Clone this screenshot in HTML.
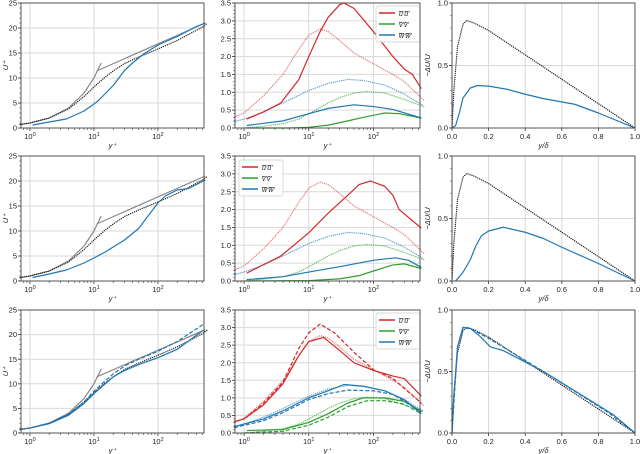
<!DOCTYPE html>
<html><head><meta charset="utf-8">
<style>
html,body{margin:0;padding:0;background:#fff;}
svg{display:block;font-family:"Liberation Sans",sans-serif;}
</style></head>
<body>
<svg id="fig" width="640" height="454" viewBox="0 0 640 454" xmlns="http://www.w3.org/2000/svg"></svg>
<script>
// ---------- data ----------
// log-law / viscous reference lines (U+ plots)
const viscX = [0.7, 1, 2, 4, 7, 10, 13];
const viscY = [0.7, 1, 2, 4, 7, 10, 13];
const logLawX = [11, 550];
const logLawY = [11.4, 21.0];
// dotted reference U+
const refUx = [0.7, 1, 2, 4, 7, 10, 15, 20, 30, 50, 100, 200, 500, 600];
const refUy = [0.7, 1.0, 2.0, 3.8, 6.3, 8.2, 10.2, 11.4, 12.9, 14.2, 15.8, 17.5, 20.2, 21.0];
// row 1 U+
const r1Ux = [1.1, 2, 3.7, 7, 10, 12, 20, 30, 40, 60, 100, 200, 400, 550];
const r1Uy = [0.6, 1.2, 1.8, 3.4, 4.8, 5.6, 8.5, 11.5, 13.0, 14.8, 16.6, 18.3, 20.3, 21.0];
// row 2 U+
const r2Ux = [1.1, 2, 3.7, 7, 10, 15, 20, 30, 50, 70, 100, 130, 200, 300, 550];
const r2Uy = [0.7, 1.4, 2.2, 3.6, 4.6, 5.8, 6.8, 8.2, 10.5, 13.0, 15.6, 17.0, 18.2, 18.5, 20.2];
// row 3 U+
const r3Ux = [1, 2, 4, 7, 10, 15, 20, 30, 50, 100, 200, 500];
const r3Uy = [1.0, 1.9, 3.6, 6.0, 8.0, 10.0, 11.4, 12.7, 13.9, 15.3, 17.0, 20.8];
const r3UdX = [0.7, 1, 2, 4, 7, 10, 15, 20, 30, 50, 100, 200, 500];
const r3UdY = [0.8, 1.0, 2.0, 3.8, 6.3, 8.5, 10.6, 12.0, 13.6, 15.0, 16.6, 18.6, 22.0];

// dotted reference Reynolds stresses
const refUUx = [0.7, 1, 2, 4, 7, 10, 15, 20, 30, 50, 100, 200, 300, 600];
const refUUy = [0.3, 0.42, 0.9, 1.5, 2.2, 2.6, 2.77, 2.7, 2.45, 2.1, 1.8, 1.5, 1.3, 0.78];
const refVVx = [1, 2, 4, 7, 10, 20, 30, 50, 80, 150, 300, 600];
const refVVy = [0.0, 0.05, 0.12, 0.25, 0.4, 0.7, 0.85, 0.98, 1.02, 0.98, 0.8, 0.6];
const refWWx = [0.7, 1, 2, 4, 10, 20, 40, 70, 150, 300, 600];
const refWWy = [0.18, 0.25, 0.45, 0.7, 1.05, 1.25, 1.36, 1.33, 1.2, 0.95, 0.62];
// row 1 stresses
const r1UUx = [1.1, 2, 3.7, 7, 10, 15, 20, 30, 35, 50, 100, 200, 300, 400, 550];
const r1UUy = [0.25, 0.45, 0.7, 1.35, 2.0, 2.7, 3.1, 3.45, 3.5, 3.35, 2.7, 2.0, 1.65, 1.5, 1.1];
const r1VVx = [1.1, 5, 10, 20, 40, 70, 150, 250, 550];
const r1VVy = [0.0, 0.0, 0.02, 0.08, 0.2, 0.3, 0.42, 0.4, 0.28];
const r1WWx = [1.1, 4, 10, 20, 50, 100, 200, 550];
const r1WWy = [0.07, 0.2, 0.4, 0.55, 0.65, 0.6, 0.52, 0.28];
// row 2 stresses
const r2UUx = [1.1, 3.7, 10, 20, 40, 60, 90, 150, 200, 250, 550];
const r2UUy = [0.22, 0.7, 1.35, 1.9, 2.4, 2.7, 2.8, 2.65, 2.4, 2.0, 1.48];
const r2VVx = [1.1, 10, 30, 60, 100, 200, 300, 550];
const r2VVy = [0.0, 0.01, 0.06, 0.15, 0.28, 0.45, 0.48, 0.35];
const r2WWx = [1.1, 4, 10, 30, 100, 220, 350, 550];
const r2WWy = [0.04, 0.12, 0.25, 0.4, 0.58, 0.65, 0.58, 0.38];
// row 3 stresses (solid + dashed)
const r3UUx = [0.7, 1, 2, 4, 7, 10, 17, 30, 50, 100, 200, 300, 550];
const r3UUy = [0.32, 0.4, 0.8, 1.4, 2.2, 2.6, 2.72, 2.35, 2.0, 1.78, 1.62, 1.55, 1.05];
const r3UUdX = [1, 2, 4, 7, 10, 15, 25, 50, 100, 200, 550];
const r3UUdY = [0.4, 0.85, 1.45, 2.4, 2.85, 3.1, 2.85, 2.3, 1.8, 1.55, 0.85];
const r3VVx = [1.1, 4, 10, 20, 40, 70, 150, 300, 550];
const r3VVy = [0.07, 0.1, 0.3, 0.55, 0.85, 1.0, 1.0, 0.9, 0.62];
const r3VVdX = [1, 4, 10, 20, 40, 80, 150, 300, 550];
const r3VVdY = [0.0, 0.05, 0.22, 0.45, 0.75, 0.92, 0.92, 0.82, 0.55];
const r3WWx = [0.7, 2, 4, 10, 20, 35, 70, 150, 300, 550];
const r3WWy = [0.18, 0.4, 0.63, 1.0, 1.2, 1.38, 1.33, 1.2, 0.95, 0.55];
const r3WWdX = [0.7, 2, 4, 10, 20, 40, 100, 200, 550];
const r3WWdY = [0.15, 0.35, 0.58, 0.95, 1.12, 1.22, 1.2, 1.1, 0.6];

// defect profiles (right column)
const refDx = [0, 0.01, 0.03, 0.06, 0.08, 0.12, 0.2, 1.0];
const refDy = [0, 0.3, 0.65, 0.83, 0.86, 0.84, 0.78, 0.0];
const r1Dx = [0, 0.02, 0.04, 0.06, 0.1, 0.14, 0.2, 0.3, 0.4, 0.5, 0.67, 0.8, 1.0];
const r1Dy = [0, 0.02, 0.12, 0.24, 0.32, 0.34, 0.335, 0.31, 0.27, 0.235, 0.19, 0.12, 0];
const r2Dx = [0.02, 0.06, 0.1, 0.13, 0.16, 0.2, 0.28, 0.4, 0.5, 0.6, 0.8, 1.0];
const r2Dy = [0, 0.07, 0.17, 0.28, 0.36, 0.4, 0.43, 0.39, 0.34, 0.27, 0.14, 0];
const r3Dx = [0, 0.01, 0.03, 0.06, 0.1, 0.15, 0.21, 0.28, 0.5, 0.88, 1.0];
const r3Dy = [0, 0.3, 0.7, 0.86, 0.85, 0.79, 0.7, 0.67, 0.5, 0.15, 0];
const r3DdX = [0, 0.03, 0.06, 0.1, 0.2, 0.5, 0.85, 1.0];
const r3DdY = [0, 0.7, 0.85, 0.85, 0.77, 0.5, 0.17, 0];

const uTicks = [0, 5, 10, 15, 20, 25];
const sTicks = [0, 0.5, 1.0, 1.5, 2.0, 2.5, 3.0, 3.5];
const dTicksY = [0, 0.5, 1.0];
const dTicksX = [0, 0.2, 0.4, 0.6, 0.8, 1.0];
const logTicks = [1, 10, 100];

// ---------- drawing ----------
const NS = "http://www.w3.org/2000/svg";
const fig = document.getElementById('fig');
const RED = '#d62728', GREEN = '#2ca02c', BLUE = '#1f77b4';

function mk(tag, attrs, parent) {
  const e = document.createElementNS(NS, tag);
  for (const k in attrs) e.setAttribute(k, attrs[k]);
  (parent || fig).appendChild(e);
  return e;
}

function makeAxes(box, xlog, xmin, xmax, ymin, ymax, name) {
  const g = mk('g', {});
  
  
  const sx = xlog
    ? v => box.x0 + (Math.log10(v) - Math.log10(xmin)) / (Math.log10(xmax) - Math.log10(xmin)) * (box.x1 - box.x0)
    : v => box.x0 + (v - xmin) / (xmax - xmin) * (box.x1 - box.x0);
  const sy = v => box.y1 - (v - ymin) / (ymax - ymin) * (box.y1 - box.y0);
  return {g, sx, sy, box};
}

function gridAndTicks(ax, xt, yt, xlog, xfmt, yfmt, ylabel, xlabel, name) {
  const {g, sx, sy, box} = ax;
  xt.forEach(v => {
    const x = sx(v);
    const gl = mk('line', {x1: x, x2: x, y1: box.y0, y2: box.y1, stroke: '#d9d9d9', 'stroke-width': 1}, g);
    
    
    mk('line', {x1: x, x2: x, y1: box.y1, y2: box.y1 + 3, stroke: '#333', 'stroke-width': 0.8}, g);
    const t = mk('text', {x: x, y: box.y1 + 11, 'font-size': 7.5, 'text-anchor': 'middle', fill: '#222'}, g);
    
    
    if (xlog) {
      const p = Math.round(Math.log10(v));
      t.textContent = '10';
      const s = mk('tspan', {dy: -3, 'font-size': 5.5}, t);
      s.textContent = String(p);
    } else t.textContent = xfmt(v);
  });
  if (xlog) {
    for (let d = -1; d <= 2; d++) for (let m = 2; m <= 9; m++) {
      const v = m * Math.pow(10, d);
      const x = sx(v);
      if (x < box.x0 || x > box.x1) continue;
      mk('line', {x1: x, x2: x, y1: box.y1, y2: box.y1 + 2, stroke: '#333', 'stroke-width': 0.6}, g);
    }
  }
  yt.forEach(v => {
    const y = sy(v);
    const gl = mk('line', {x1: box.x0, x2: box.x1, y1: y, y2: y, stroke: '#d9d9d9', 'stroke-width': 1}, g);
    
    
    mk('line', {x1: box.x0 - 3, x2: box.x0, y1: y, y2: y, stroke: '#333', 'stroke-width': 0.8}, g);
    const t = mk('text', {x: box.x0 - 4, y: y + 2.6, 'font-size': 7.5, 'text-anchor': 'end', fill: '#222'}, g);
    
    
    t.textContent = yfmt(v);
  });
  // minor y ticks
  const n = (yt.length - 1) * 5;
  for (let i = 0; i <= n; i++) {
    const v = yt[0] + (yt[yt.length - 1] - yt[0]) * i / n;
    const y = sy(v);
    mk('line', {x1: box.x0 - 1.8, x2: box.x0, y1: y, y2: y, stroke: '#333', 'stroke-width': 0.5}, g);
  }
  const xl = mk('text', {x: (box.x0 + box.x1) / 2, y: box.y1 + 20, 'font-size': 7.5, 'text-anchor': 'middle', 'font-style': 'italic', fill: '#222'}, g);
  
  
  xl.textContent = xlabel;
  const yl = mk('text', {x: 0, y: 0, 'font-size': 7.5, 'text-anchor': 'middle', 'font-style': 'italic', fill: '#222',
    transform: `translate(${ylabel.xpos},${(box.y0 + box.y1) / 2}) rotate(-90)`}, g);
  
  
  yl.textContent = ylabel.text;
}

function frame(ax) {
  const {g, box} = ax;
  const r = mk('rect', {x: box.x0, y: box.y0, width: box.x1 - box.x0, height: box.y1 - box.y0, fill: 'none', stroke: '#444', 'stroke-width': 0.9}, g);
  
  
}

function series(ax, xs, ys, color, style, name, opacity) {
  const {g, sx, sy, box} = ax;
  const pts = xs.map((x, i) => sx(x).toFixed(2) + ',' + sy(ys[i]).toFixed(2)).join(' ');
  const a = {points: pts, fill: 'none', stroke: color, 'stroke-width': style === 'dot' ? 1.3 : 1.2,
    'stroke-linejoin': 'round', 'stroke-linecap': style === 'dot' ? 'round' : 'butt'};
  if (style === 'dot') a['stroke-dasharray'] = '0.1 2';
  if (style === 'dash') a['stroke-dasharray'] = '4 2';
  if (opacity) a['stroke-opacity'] = opacity;
  const p = mk('polyline', a, g);
  
  
}

function legend(ax, lx, ly) {
  const {g} = ax;
  const lg = mk('g', {}, g);
  
  
  const bx = mk('rect', {x: lx, y: ly, width: 44, height: 36, rx: 2, fill: '#fff', 'fill-opacity': 0.85, stroke: '#ccc', 'stroke-width': 0.7}, lg);
  
  
  const items = [[RED, "u'u'"], [GREEN, "v'v'"], [BLUE, "w'w'"]];
  items.forEach((it, i) => {
    const y = ly + 7 + i * 11;
    const e = mk('g', {}, lg);
    
    
    mk('line', {x1: lx + 3, x2: lx + 19, y1: y, y2: y, stroke: it[0], 'stroke-width': 1.5}, e);
    const t = mk('text', {x: lx + 23, y: y + 3, 'font-size': 7, 'font-style': 'italic', fill: '#222', 'text-decoration': 'overline'}, e);
    t.textContent = it[1];
  });
}

const rowsY = [[3, 128], [156, 281], [310, 433]];
const colX = [[21, 204], [235, 420], [452, 635]];
const logMin = Math.pow(10, -0.14), logMax = Math.pow(10, 2.72);

const Udata = [
  [[r1Ux, r1Uy, 'solid']],
  [[r2Ux, r2Uy, 'solid']],
  [[r3Ux, r3Uy, 'solid'], [r3UdX, r3UdY, 'dash']]
];
const Sdata = [
  [[r1UUx, r1UUy, RED, 'solid'], [r1VVx, r1VVy, GREEN, 'solid'], [r1WWx, r1WWy, BLUE, 'solid']],
  [[r2UUx, r2UUy, RED, 'solid'], [r2VVx, r2VVy, GREEN, 'solid'], [r2WWx, r2WWy, BLUE, 'solid']],
  [[r3UUx, r3UUy, RED, 'solid'], [r3UUdX, r3UUdY, RED, 'dash'], [r3VVx, r3VVy, GREEN, 'solid'],
   [r3VVdX, r3VVdY, GREEN, 'dash'], [r3WWx, r3WWy, BLUE, 'solid'], [r3WWdX, r3WWdY, BLUE, 'dash']]
];
const Ddata = [
  [[r1Dx, r1Dy, 'solid']],
  [[r2Dx, r2Dy, 'solid']],
  [[r3Dx, r3Dy, 'solid'], [r3DdX, r3DdY, 'dash']]
];
const legendPos = [[376, 6], [239, 160], [376, 313]];

for (let r = 0; r < 3; r++) {
  const [y0, y1] = rowsY[r];
  // U+ panel
  let c = colX[0];
  let ax = makeAxes({x0: c[0], x1: c[1], y0, y1}, true, logMin, logMax, 0, 25, 'mean-velocity-panel-row' + (r + 1));
  gridAndTicks(ax, logTicks, uTicks, true, null, v => String(v), {text: 'U⁺', xpos: 8}, 'y⁺');
  series(ax, viscX, viscY, '#888', 'solid', 'viscous-sublayer-line');
  series(ax, logLawX, logLawY, '#888', 'solid', 'log-law-line');
  series(ax, refUx, refUy, '#222', 'dot', 'reference-u-plus');
  Udata[r].forEach(s => series(ax, s[0], s[1], BLUE, s[2], 'u-plus-' + s[2]));
  frame(ax);
  // stresses panel
  c = colX[1];
  ax = makeAxes({x0: c[0], x1: c[1], y0, y1}, true, logMin, logMax, 0, 3.5, 'reynolds-stress-panel-row' + (r + 1));
  gridAndTicks(ax, logTicks, sTicks, true, null, v => v.toFixed(1), {text: '', xpos: 220}, 'y⁺');
  series(ax, refUUx, refUUy, RED, 'dot', 'reference-uu', 0.6);
  series(ax, refVVx, refVVy, GREEN, 'dot', 'reference-vv', 0.7);
  series(ax, refWWx, refWWy, BLUE, 'dot', 'reference-ww', 0.7);
  Sdata[r].forEach(s => series(ax, s[0], s[1], s[2], s[3], 'stress-' + s[3]));
  legend(ax, legendPos[r][0], legendPos[r][1]);
  frame(ax);
  // defect panel
  c = colX[2];
  ax = makeAxes({x0: c[0], x1: c[1], y0, y1}, false, 0, 1, 0, 1, 'velocity-defect-panel-row' + (r + 1));
  gridAndTicks(ax, dTicksX, dTicksY, false, v => v.toFixed(1), v => v.toFixed(1), {text: '−ΔU/U', xpos: 430}, 'y/δ');
  series(ax, refDx, refDy, '#222', 'dot', 'reference-defect');
  Ddata[r].forEach(s => series(ax, s[0], s[1], BLUE, s[2], 'defect-' + s[2]));
  frame(ax);
}
</script>
</body></html>
